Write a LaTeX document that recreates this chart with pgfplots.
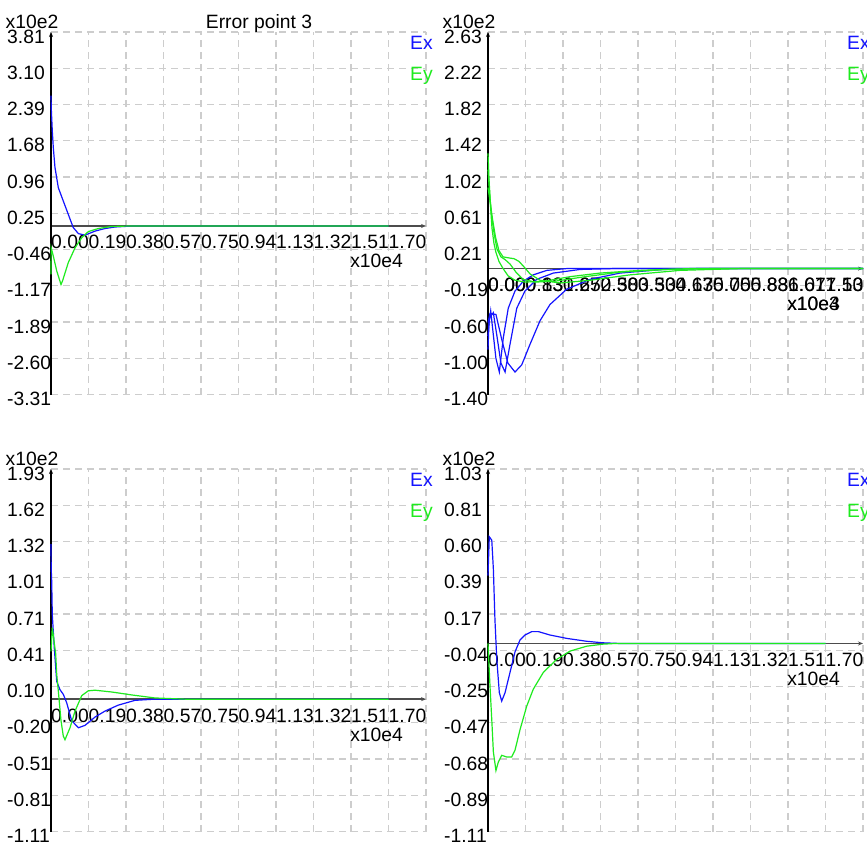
\documentclass[border=0pt]{standalone}
\usepackage{pgfplots}
\pgfplotsset{compat=1.18}
\usepackage{fontspec}
\setmainfont{Liberation Sans}
\usetikzlibrary{arrows.meta}
\definecolor{exblue}{RGB}{20,20,255}
\definecolor{eygreen}{RGB}{30,235,30}
\definecolor{gridgray}{RGB}{205,205,205}
\newcommand{\fs}{\fontsize{19.3}{23}\selectfont}
\pgfplotsset{
 panel/.style={
  scale only axis, width=375pt, height=362.5pt,
  xmin=0, xmax=1.88889,
  axis x line=middle, axis y line=left,
  hide obscured x ticks=false, hide obscured y ticks=false,
  x axis line style={draw=black!70, line width=1.4pt, -{Stealth[length=5pt,width=4pt]}},
  y axis line style={draw=black, line width=1.2pt, -{Stealth[length=5pt,width=4pt]}},
  xtick={0,0.18889,0.37778,0.56667,0.75556,0.94444,1.13333,1.32222,1.51111,1.7,1.88889},
  xticklabels={0.00,0.19,0.38,0.57,0.75,0.94,1.13,1.32,1.51,1.70,{}},
  grid=major,
  major grid style={gridgray, dash pattern=on 7pt off 5pt, line width=1.1pt},
  major tick length=0pt,
  tick label style={font=\fs, inner sep=0pt},
  xticklabel style={anchor=base west, yshift=-23pt},
  yticklabel style={anchor=base west, xshift=-44pt, yshift=-11pt},
  clip=false,
  every axis plot/.append style={line width=1.2pt},
 },
 ex/.style={exblue, line width=1.2pt},
 ey/.style={eygreen, line width=1.2pt},
}
\newcommand{\panellabels}[1]{%
  \node[anchor=base west, font=\fs, inner sep=0pt] at (rel axis cs:0,1) [xshift=-45.5pt, yshift=4pt] {x10e2};
  \node[anchor=base west, font=\fs, inner sep=0pt, text=exblue] at (rel axis cs:0,1) [xshift=359pt, yshift=-17.3pt] {Ex};
  \node[anchor=base west, font=\fs, inner sep=0pt, text=eygreen] at (rel axis cs:0,1) [xshift=359pt, yshift=-48pt] {Ey};
  \node[anchor=base east, font=\fs, inner sep=0pt] at (axis cs:1.7733,0) [yshift=-42pt] {#1};
}
\begin{document}
\begin{tikzpicture}
\fill[white] (0,0) rectangle (867pt,-860pt);
\path[use as bounding box] (0,0) rectangle (867pt,-860pt);

% ---------- top left ----------
\begin{axis}[panel, at={(51pt,-32pt)}, anchor=north west,
  ymin=-3.31, ymax=3.81,
  ytick={-3.31,-2.598,-1.886,-1.174,-0.462,0.25,0.962,1.674,2.386,3.098,3.81},
  yticklabels={-3.31,-2.60,-1.89,-1.17,-0.46,0.25,0.96,1.68,2.39,3.10,3.81}]
\addplot[ex] coordinates {(0,2.56) (0.0015,2.30) (0.0065,1.87) (0.0116,1.54) (0.020,1.15) (0.037,0.75) (0.062,0.49) (0.087,0.23) (0.112,-0.03) (0.138,-0.15) (0.171,-0.18) (0.222,-0.10) (0.272,-0.05) (0.322,-0.02) (0.413,0) (1.70,0)};
\addplot[ey] coordinates {(0,-0.95) (0.001,-0.43) (0.0116,-0.59) (0.0287,-0.88) (0.0504,-1.15) (0.058,-1.08) (0.087,-0.72) (0.121,-0.43) (0.155,-0.23) (0.188,-0.11) (0.238,-0.05) (0.305,-0.01) (0.40,0) (1.70,0)};
\panellabels{x10e4}
\node[anchor=base, font=\fs, inner sep=0pt] at (rel axis cs:0,1) [xshift=208pt, yshift=4pt] {Error point 3};
\end{axis}

% ---------- top right ----------
\begin{axis}[panel, at={(488pt,-32pt)}, anchor=north west,
  ymin=-1.40, ymax=2.63,
  ytick={-1.40,-0.997,-0.594,-0.191,0.212,0.615,1.018,1.421,1.824,2.227,2.63},
  yticklabels={-1.40,-1.00,-0.60,-0.19,0.21,0.61,1.02,1.42,1.82,2.22,2.63},
  xticklabels={0.00,0.13,0.25,0.38,0.50,0.63,0.75,0.88,1.01,1.13,{}},
  extra x ticks={0,0.18889,0.37778,0.56667,0.75556,0.94444,1.13333,1.32222,1.51111,1.7},
  extra x tick labels={0.00,0.83,1.67,2.50,3.33,4.17,5.00,5.83,6.67,7.50},
  extra x tick style={grid=none}]
\addplot[ex] coordinates {(0,-0.90) (0.005,-0.60) (0.0136,-0.47) (0.025,-0.70) (0.040,-1.00) (0.057,-1.15) (0.077,-0.77) (0.102,-0.44) (0.136,-0.25) (0.178,-0.14) (0.228,-0.07) (0.296,-0.02) (0.396,0) (1.889,0)};
\addplot[ex] coordinates {(0,-0.75) (0.0076,-0.55) (0.0267,-0.49) (0.045,-0.75) (0.065,-1.05) (0.086,-1.15) (0.111,-0.84) (0.145,-0.44) (0.186,-0.25) (0.245,-0.12) (0.329,-0.05) (0.463,-0.01) (0.63,0) (1.889,0)};
\addplot[ex] coordinates {(0,-0.60) (0.010,-0.50) (0.040,-0.51) (0.0705,-0.80) (0.10,-1.05) (0.136,-1.15) (0.170,-1.07) (0.212,-0.84) (0.262,-0.58) (0.312,-0.40) (0.396,-0.23) (0.514,-0.12) (0.665,-0.05) (0.882,-0.01) (1.053,0) (1.889,0)};
\addplot[ey] coordinates {(0,1.28) (0.005,1.00) (0.0126,0.70) (0.020,0.45) (0.030,0.28) (0.040,0.18) (0.055,0.08) (0.076,0.0) (0.101,-0.08) (0.136,-0.13) (0.186,-0.15) (0.287,-0.14) (0.413,-0.09) (0.564,-0.05) (0.766,-0.02) (1.018,0) (1.889,0)};
\addplot[ey] coordinates {(0,1.10) (0.0076,0.85) (0.0176,0.60) (0.030,0.40) (0.045,0.22) (0.065,0.13) (0.086,0.10) (0.111,0.05) (0.141,-0.04) (0.176,-0.12) (0.237,-0.15) (0.338,-0.14) (0.489,-0.09) (0.665,-0.04) (0.892,-0.01) (1.118,0) (1.889,0)};
\addplot[ey] coordinates {(0,0.90) (0.010,0.75) (0.0227,0.55) (0.0378,0.35) (0.055,0.20) (0.076,0.13) (0.101,0.12) (0.131,0.11) (0.156,0.08) (0.181,0.02) (0.212,-0.06) (0.262,-0.13) (0.363,-0.16) (0.514,-0.13) (0.715,-0.07) (0.967,-0.02) (1.27,0) (1.889,0)};
\panellabels{x10e4}
\node[anchor=base east, font=\fs, inner sep=0pt] at (axis cs:1.7733,0) [yshift=-42pt] {x10e3};
\end{axis}

% ---------- bottom left ----------
\begin{axis}[panel, at={(51pt,-469pt)}, anchor=north west,
  ymin=-1.11, ymax=1.93,
  ytick={-1.11,-0.806,-0.502,-0.198,0.106,0.41,0.714,1.018,1.322,1.626,1.93},
  yticklabels={-1.11,-0.81,-0.51,-0.20,0.10,0.41,0.71,1.01,1.32,1.62,1.93}]
\addplot[ex] coordinates {(0,1.30) (0.001,1.10) (0.0035,0.99) (0.0065,0.71) (0.0166,0.43) (0.0287,0.15) (0.045,0.08) (0.062,0.04) (0.079,-0.03) (0.104,-0.18) (0.138,-0.24) (0.171,-0.22) (0.222,-0.15) (0.272,-0.10) (0.339,-0.05) (0.423,-0.01) (0.524,0) (1.70,0)};
\addplot[ey] coordinates {(0,0.40) (0.0065,0.60) (0.0237,0.38) (0.0287,0.21) (0.0368,0.07) (0.0504,-0.18) (0.062,-0.31) (0.0705,-0.34) (0.0957,-0.24) (0.121,-0.10) (0.155,0.03) (0.188,0.07) (0.222,0.075) (0.306,0.06) (0.408,0.035) (0.524,0.01) (0.675,0) (1.70,0)};
\panellabels{x10e4}
\end{axis}

% ---------- bottom right ----------
\begin{axis}[panel, at={(488pt,-469pt)}, anchor=north west,
  ymin=-1.11, ymax=1.03,
  ytick={-1.11,-0.896,-0.682,-0.468,-0.254,-0.04,0.174,0.388,0.602,0.816,1.03},
  yticklabels={-1.11,-0.89,-0.68,-0.47,-0.25,-0.04,0.17,0.39,0.60,0.81,1.03}]
\addplot[ex] coordinates {(0,0.40) (0.0065,0.63) (0.019,0.61) (0.027,0.44) (0.035,0.14) (0.044,-0.09) (0.057,-0.29) (0.069,-0.34) (0.086,-0.29) (0.111,-0.17) (0.136,-0.05) (0.161,0.02) (0.186,0.05) (0.220,0.07) (0.254,0.07) (0.312,0.05) (0.397,0.03) (0.497,0.013) (0.579,0.004) (0.665,0) (1.70,0)};
\addplot[ey] coordinates {(0,0) (0.010,-0.25) (0.019,-0.45) (0.027,-0.64) (0.040,-0.75) (0.052,-0.70) (0.069,-0.66) (0.094,-0.67) (0.119,-0.67) (0.136,-0.63) (0.161,-0.51) (0.195,-0.37) (0.228,-0.27) (0.279,-0.17) (0.346,-0.094) (0.413,-0.045) (0.497,-0.016) (0.579,-0.004) (0.64,0) (1.70,0)};
\panellabels{x10e4}
\end{axis}
\end{tikzpicture}
\end{document}
